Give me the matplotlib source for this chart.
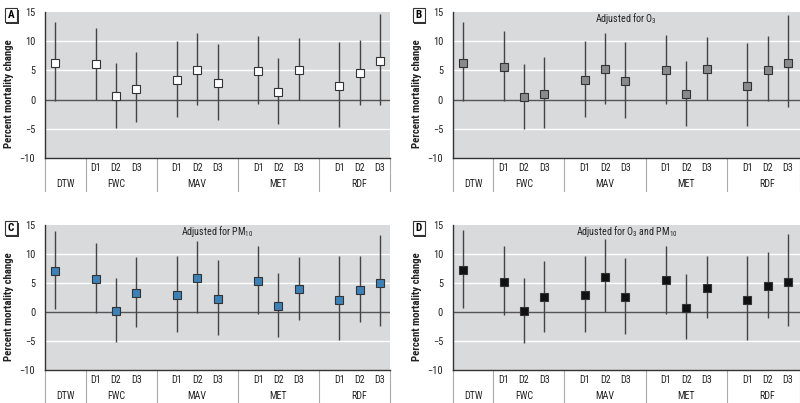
import numpy as np
import matplotlib
matplotlib.use('Agg')
import matplotlib.pyplot as plt
from matplotlib import font_manager
from matplotlib.patches import Rectangle

# data
groups = ['DTW', 'FWC', 'MAV', 'MET', 'RDF']
subs = ['', 'D1', 'D2', 'D3', 'D1', 'D2', 'D3', 'D1', 'D2', 'D3', 'D1', 'D2', 'D3']

est_a = [6.2, 6.1, 0.6, 1.9, 3.3, 5.1, 2.9, 4.9, 1.3, 5.1, 2.3, 4.5, 6.6]
lo_a = [-0.3, 0.0, -4.8, -3.9, -3.0, -0.9, -3.5, -0.7, -4.2, -0.1, -4.7, -1.0, -0.9]
hi_a = [13.3, 12.2, 6.3, 8.1, 10.1, 11.4, 9.5, 10.9, 7.1, 10.6, 9.8, 10.3, 14.7]

est_b = [6.3, 5.6, 0.4, 1.0, 3.4, 5.3, 3.2, 5.0, 1.0, 5.3, 2.3, 5.1, 6.3]
lo_b = [-0.2, -0.2, -5.0, -4.9, -2.9, -0.8, -3.1, -0.7, -4.5, 0.0, -4.6, -0.3, -1.3]
hi_b = [13.3, 11.8, 6.1, 7.3, 10.1, 11.5, 9.9, 11.0, 6.6, 10.7, 9.7, 10.9, 14.5]

est_c = [7.1, 5.7, 0.2, 3.2, 2.9, 5.9, 2.3, 5.4, 1.0, 3.9, 2.1, 3.7, 5.0]
lo_c = [0.5, -0.2, -5.2, -2.6, -3.4, -0.2, -4.0, -0.3, -4.4, -1.4, -4.9, -1.8, -2.5]
hi_c = [14.0, 11.8, 5.9, 9.4, 9.7, 12.3, 9.0, 11.3, 6.7, 9.4, 9.7, 9.6, 13.2]

est_d = [7.2, 5.2, 0.1, 2.5, 2.9, 6.0, 2.6, 5.5, 0.7, 4.2, 2.1, 4.4, 5.1]
lo_d = [0.6, -0.6, -5.3, -3.4, -3.4, 0.0, -3.8, -0.3, -4.7, -1.1, -4.9, -1.1, -2.5]
hi_d = [14.1, 11.4, 5.9, 8.7, 9.6, 12.5, 9.3, 11.4, 6.5, 9.7, 9.7, 10.3, 13.4]


def pick_font():
    for fam in ['Liberation Sans Narrow', 'Roboto Condensed', 'DejaVu Sans']:
        try:
            font_manager.findfont(font_manager.FontProperties(family=fam),
                                  fallback_to_default=False)
            return fam
        except Exception:
            pass
    return 'DejaVu Sans'


FONT = pick_font()
plt.rcParams['font.family'] = FONT
plt.rcParams['mathtext.fontset'] = 'custom'
plt.rcParams['mathtext.rm'] = FONT

# x positions: DTW alone, then four groups of three
xpos = [0] + [2 + 4 * g + k for g in range(4) for k in range(3)]
seps = [1.5, 5.0, 9.0, 13.0]
group_x = [0.5, 3, 7, 11, 15]

W, H = 800, 403
fig = plt.figure(figsize=(8, 4.03), dpi=100)

panels = [
    ('A', [0.05625, 0.608, 0.43125, 0.362], est_a, lo_a, hi_a, 'white', None),
    ('B', [0.566, 0.608, 0.434, 0.362], est_b, lo_b, hi_b, '#8a8a8a', r'Adjusted for O$_{3}$'),
    ('C', [0.05625, 0.0819, 0.43125, 0.36], est_c, lo_c, hi_c, '#3b82b8', r'Adjusted for PM$_{10}$'),
    ('D', [0.566, 0.0819, 0.434, 0.36], est_d, lo_d, hi_d, '#111111', r'Adjusted for O$_{3}$ and PM$_{10}$'),
]

for letter, rect, est, lo, hi, fc, title in panels:
    ax = fig.add_axes(rect)
    ax.set_facecolor('#d9dadb')
    xl = -0.5
    xr = 16.5 if rect[2] < 0.432 else 16.6
    ax.set_xlim(xl, xr)
    ax.set_ylim(-10, 15)
    for yv in [-5, 5, 10]:
        ax.axhline(yv, color='white', lw=1.0, zorder=1)
    ax.axhline(0, color='#555555', lw=1.0, zorder=2)

    est = np.array(est)
    yerr = [est - np.array(lo), np.array(hi) - est]
    ms = 6.0 if letter == 'D' else 5.5
    ax.errorbar(xpos, est, yerr=yerr, fmt='s', ms=ms, mfc=fc, mec='#333333',
                mew=0.8, ecolor='#444444', elinewidth=1.0, capsize=0, zorder=3)

    for s in ['top', 'right']:
        ax.spines[s].set_visible(False)
    ax.spines['left'].set_color('#333333')
    ax.spines['bottom'].set_color('#333333')
    ax.spines['left'].set_linewidth(1.0)
    ax.spines['bottom'].set_linewidth(1.0)

    ax.set_xticks([])
    ax.set_yticks([-10, -5, 0, 5, 10, 15])
    ax.set_yticklabels(['\u221210', '\u22125', '0', '5', '10', '15'])
    ax.tick_params(axis='y', length=0, pad=7, labelsize=7.5, colors='#222222')
    ax.set_ylabel('Percent mortality change', fontsize=7.8, fontweight='bold',
                  color='#222222')
    ax.yaxis.set_label_coords(-0.09, 0.44)

    # category band below the axes
    band_bottom = -15.6
    for sx in seps + [xl, xr]:
        ax.plot([sx, sx], [-10, band_bottom], color='#aaaaaa', lw=0.8,
                clip_on=False, zorder=1)
    for x, lab in zip(xpos, subs):
        ax.text(x, -11.8, lab, ha='center', va='center', fontsize=7.2,
                color='#222222', clip_on=False)
    for x, g in zip(group_x, groups):
        ax.text(x, -14.5, g, ha='center', va='center', fontsize=7.2,
                color='#222222', clip_on=False)

    if title:
        ax.text(0.5, 0.955, title, transform=ax.transAxes, ha='center',
                va='center', fontsize=7.2, color='#222222')

    # boxed panel letter with a drop shadow
    lx = rect[0] - 0.0425
    ly = rect[1] + rect[3] - 0.008
    bw, bh = 12 / W, 14 / H
    fig.add_artist(Rectangle((lx - bw / 2 + 1.5 / W, ly - bh / 2 - 1.5 / H), bw, bh,
                             transform=fig.transFigure, fc='#333333', ec='none'))
    fig.add_artist(Rectangle((lx - bw / 2, ly - bh / 2), bw, bh,
                             transform=fig.transFigure, fc='white', ec='#333333',
                             lw=0.8))
    fig.text(lx, ly, letter, ha='center', va='center', fontsize=8,
             fontweight='bold', color='black')

fig.savefig('out.png', dpi=100)
